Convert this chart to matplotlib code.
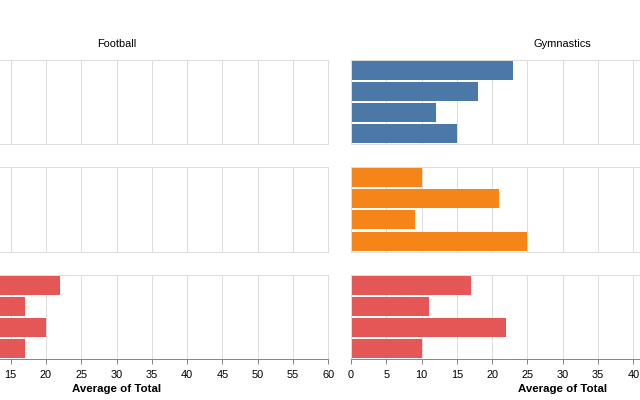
import numpy as np
import matplotlib.pyplot as plt

plt.rcParams['font.family'] = ['Liberation Sans', 'DejaVu Sans']

# facet columns / rows and the bars inside each panel
sports = ['Football', 'Gymnastics']
groups = ['Group 1', 'Group 2', 'Group 3']
bars = ['A', 'B', 'C', 'D']
colors = ['#4c78a8', '#f58518', '#e45756']

# Average of Total per (group, sport); nan = no bar visible
football = [
    [np.nan, np.nan, np.nan, np.nan],
    [np.nan, np.nan, np.nan, np.nan],
    [22, 17, 20, 17],
]
gymnastics = [
    [23, 18, 12, 15],
    [10, 21, 9, 25],
    [17, 11, 22, 10],
]
values = {'Football': football, 'Gymnastics': gymnastics}

W, H = 640, 400
fig = plt.figure(figsize=(W / 100, H / 100), dpi=100)

px = 0.72  # one pixel in points
panel_w = 423.5
panel_h = 84.4
col_left = [-95.2, 351.0]
row_top = [59.5, 167.2, 274.8]

for c, sport in enumerate(sports):
    for r, grp in enumerate(groups):
        x0 = col_left[c] / W
        y0 = 1 - (row_top[r] + panel_h) / H
        ax = fig.add_axes([x0, y0, panel_w / W, panel_h / H])
        vals = np.array(values[sport][r], dtype=float)
        ypos = np.arange(len(bars))
        ok = ~np.isnan(vals)
        ax.barh(ypos[ok], vals[ok], height=0.9, color=colors[r], zorder=2)
        ax.set_xlim(0, 60)
        ax.set_ylim(len(bars) - 0.5, -0.5)
        ax.set_xticks(np.arange(0, 61, 5))
        ax.set_yticks([])
        ax.grid(axis='x', color='#dddddd', linewidth=px, zorder=0)
        ax.set_axisbelow(True)
        for s in ax.spines.values():
            s.set_color('#dddddd')
            s.set_linewidth(px)
        if r == len(groups) - 1:
            ax.spines['bottom'].set_color('#888888')
            ax.tick_params(axis='x', colors='#888888', length=5 * px,
                           width=px, labelsize=11 * px, labelcolor='black', pad=4)
            ax.set_xlabel('Average of Total', fontsize=11.5 * px,
                          fontweight='bold', labelpad=3)
            # labels that fall outside the cropped canvas are hidden
            fig.canvas.draw()
            for lab in ax.get_xticklabels():
                bb = lab.get_window_extent()
                if bb.x0 < 0 or bb.x1 > W:
                    lab.set_visible(False)
        else:
            ax.tick_params(axis='x', length=0, labelbottom=False)
        if r == 0:
            ax.set_title(sport, fontsize=11 * px, pad=9)

fig.savefig('out.png', dpi=100)
